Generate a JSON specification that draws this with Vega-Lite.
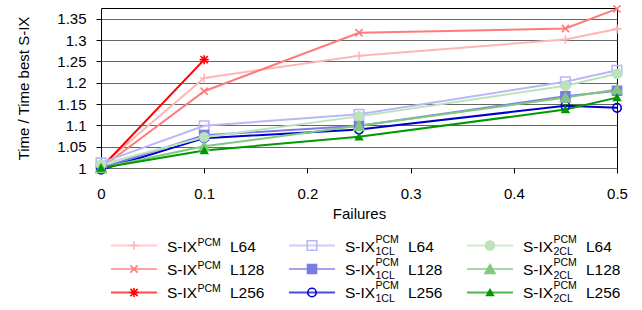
{
  "$schema": "https://vega.github.io/schema/vega-lite/v6.json",
  "padding": {"left": 16, "top": 1, "right": 5, "bottom": 0},
  "background": "white",
  "spacing": 12,
  "config": {
    "font": "Liberation Sans",
    "view": {"stroke": "black", "strokeWidth": 1},
    "axis": {
      "labelFont": "Liberation Sans", "titleFont": "Liberation Sans",
      "labelFontSize": 15, "titleFontSize": 15,
      "labelColor": "black", "titleColor": "black", "titleFontWeight": "normal",
      "domainColor": "black", "tickColor": "black", "tickSize": 5, "grid": false, "labelFlush": false
    }
  },
  "datasets": {
    "lines": [
      {"series": "PCM L64", "x": 0, "y": 1.005}, {"series": "PCM L64", "x": 0.1, "y": 1.211}, {"series": "PCM L64", "x": 0.25, "y": 1.263}, {"series": "PCM L64", "x": 0.45, "y": 1.301}, {"series": "PCM L64", "x": 0.5, "y": 1.326},
      {"series": "PCM L128", "x": 0, "y": 1.0}, {"series": "PCM L128", "x": 0.1, "y": 1.18}, {"series": "PCM L128", "x": 0.25, "y": 1.317}, {"series": "PCM L128", "x": 0.45, "y": 1.327}, {"series": "PCM L128", "x": 0.5, "y": 1.373},
      {"series": "PCM L256", "x": 0, "y": 1.0}, {"series": "PCM L256", "x": 0.1, "y": 1.254},
      {"series": "1CL L64", "x": 0, "y": 1.012}, {"series": "1CL L64", "x": 0.1, "y": 1.099}, {"series": "1CL L64", "x": 0.25, "y": 1.126}, {"series": "1CL L64", "x": 0.45, "y": 1.202}, {"series": "1CL L64", "x": 0.5, "y": 1.229},
      {"series": "1CL L128", "x": 0, "y": 1.0}, {"series": "1CL L128", "x": 0.1, "y": 1.077}, {"series": "1CL L128", "x": 0.25, "y": 1.099}, {"series": "1CL L128", "x": 0.45, "y": 1.168}, {"series": "1CL L128", "x": 0.5, "y": 1.181},
      {"series": "1CL L256", "x": 0, "y": 0.996}, {"series": "1CL L256", "x": 0.1, "y": 1.07}, {"series": "1CL L256", "x": 0.25, "y": 1.09}, {"series": "1CL L256", "x": 0.45, "y": 1.146}, {"series": "1CL L256", "x": 0.5, "y": 1.141},
      {"series": "2CL L64", "x": 0, "y": 1.008}, {"series": "2CL L64", "x": 0.1, "y": 1.072}, {"series": "2CL L64", "x": 0.25, "y": 1.121}, {"series": "2CL L64", "x": 0.45, "y": 1.193}, {"series": "2CL L64", "x": 0.5, "y": 1.221},
      {"series": "2CL L128", "x": 0, "y": 1.0}, {"series": "2CL L128", "x": 0.1, "y": 1.051}, {"series": "2CL L128", "x": 0.25, "y": 1.099}, {"series": "2CL L128", "x": 0.45, "y": 1.165}, {"series": "2CL L128", "x": 0.5, "y": 1.184},
      {"series": "2CL L256", "x": 0, "y": 1.0}, {"series": "2CL L256", "x": 0.1, "y": 1.041}, {"series": "2CL L256", "x": 0.25, "y": 1.073}, {"series": "2CL L256", "x": 0.45, "y": 1.137}, {"series": "2CL L256", "x": 0.5, "y": 1.165}
    ],
    "legend": [
      {"series": "PCM L64", "group": "PCM", "level": "L64"},
      {"series": "PCM L128", "group": "PCM", "level": "L128"},
      {"series": "PCM L256", "group": "PCM", "level": "L256"},
      {"series": "1CL L64", "group": "1CL", "level": "L64"},
      {"series": "1CL L128", "group": "1CL", "level": "L128"},
      {"series": "1CL L256", "group": "1CL", "level": "L256"},
      {"series": "2CL L64", "group": "2CL", "level": "L64"},
      {"series": "2CL L128", "group": "2CL", "level": "L128"},
      {"series": "2CL L256", "group": "2CL", "level": "L256"}
    ]
  },
  "vconcat": [
    {
      "width": 516,
      "height": 160,
      "data": {"name": "lines"},
      "encoding": {
        "x": {"field": "x", "type": "quantitative",
          "scale": {"domain": [0, 0.5], "nice": false, "zero": false},
          "axis": {"title": "Failures", "values": [0, 0.1, 0.2, 0.3, 0.4, 0.5], "format": "~g", "labelPadding": 13, "titlePadding": 5, "domain": false}},
        "y": {"field": "y", "type": "quantitative",
          "scale": {"domain": [1, 1.375], "nice": false, "zero": false},
          "axis": {"title": "Time / Time best S-IX", "values": [1, 1.05, 1.1, 1.15, 1.2, 1.25, 1.3, 1.35], "format": "~g", "grid": true, "gridColor": "#666666", "labelPadding": 10, "titlePadding": 25, "domain": false}}
      },
      "layer": [
        {
          "mark": {"type": "line", "strokeWidth": 2},
          "encoding": {
            "color": {"field": "series", "type": "nominal", "legend": null,
              "scale": {"domain": ["PCM L64", "PCM L128", "PCM L256", "1CL L64", "1CL L128", "1CL L256", "2CL L64", "2CL L128", "2CL L256"],
                        "range": ["#ffb6b6", "#ff7a7a", "#ff0000", "#b8b8f8", "#7b7be6", "#0000cc", "#bbe3bb", "#80c880", "#009900"]}}
          }
        },
        {
          "mark": {"type": "point", "filled": false, "strokeWidth": 1.6, "opacity": 1},
          "encoding": {
            "color": {"field": "series", "type": "nominal", "legend": null,
              "scale": {"domain": ["PCM L64", "PCM L128", "PCM L256", "1CL L64", "1CL L128", "1CL L256", "2CL L64", "2CL L128", "2CL L256"],
                        "range": ["#ffb6b6", "#ff7a7a", "#ff0000", "#b8b8f8", "#7b7be6", "#0000cc", "#bbe3bb", "#80c880", "#009900"]}},
            "fill": {"field": "series", "type": "nominal", "legend": null,
              "scale": {"domain": ["PCM L64", "PCM L128", "PCM L256", "1CL L64", "1CL L128", "1CL L256", "2CL L64", "2CL L128", "2CL L256"],
                        "range": ["transparent", "transparent", "transparent", "transparent", "#7b7be6", "transparent", "#bbe3bb", "#80c880", "#009900"]}},
            "shape": {"field": "series", "type": "nominal", "legend": null,
              "scale": {"domain": ["PCM L64", "PCM L128", "PCM L256", "1CL L64", "1CL L128", "1CL L256", "2CL L64", "2CL L128", "2CL L256"],
                        "range": ["M-1,0H1M0,-1V1", "M-0.8,-0.8L0.8,0.8M0.8,-0.8L-0.8,0.8", "M-1,0H1M0,-1V1M-0.8,-0.8L0.8,0.8M0.8,-0.8L-0.8,0.8", "square", "square", "circle", "circle", "triangle-up", "triangle-up"]}},
            "size": {"field": "series", "type": "nominal", "legend": null,
              "scale": {"type": "ordinal", "domain": ["PCM L64", "PCM L128", "PCM L256", "1CL L64", "1CL L128", "1CL L256", "2CL L64", "2CL L128", "2CL L256"],
                        "range": [81, 81, 81, 90, 81, 72, 81, 100, 45]}}
          }
        }
      ]
    },
    {
      "width": 422,
      "height": 60,
      "view": {"stroke": null},
      "data": {"name": "legend"},
      "encoding": {
        "x": {"field": "group", "type": "nominal", "scale": {"type": "point", "domain": ["PCM", "1CL", "2CL"], "padding": 0.1854}, "axis": null},
        "y": {"field": "level", "type": "nominal", "scale": {"type": "point", "domain": ["L64", "L128", "L256"], "padding": 0.277}, "axis": null}
      },
      "layer": [
        {
          "mark": {"type": "tick", "orient": "horizontal", "size": 46, "thickness": 2},
          "encoding": {
            "color": {"field": "series", "type": "nominal", "legend": null,
              "scale": {"domain": ["PCM L64", "PCM L128", "PCM L256", "1CL L64", "1CL L128", "1CL L256", "2CL L64", "2CL L128", "2CL L256"],
                        "range": ["#ffb6b6", "#ff7a7a", "#ff0000", "#b8b8f8", "#7b7be6", "#0000cc", "#bbe3bb", "#80c880", "#009900"]}}
          }
        },
        {
          "mark": {"type": "point", "filled": false, "strokeWidth": 1.6, "opacity": 1},
          "encoding": {
            "color": {"field": "series", "type": "nominal", "legend": null},
            "fill": {"field": "series", "type": "nominal", "legend": null,
              "scale": {"domain": ["PCM L64", "PCM L128", "PCM L256", "1CL L64", "1CL L128", "1CL L256", "2CL L64", "2CL L128", "2CL L256"],
                        "range": ["transparent", "transparent", "transparent", "transparent", "#7b7be6", "transparent", "#bbe3bb", "#80c880", "#009900"]}},
            "shape": {"field": "series", "type": "nominal", "legend": null,
              "scale": {"domain": ["PCM L64", "PCM L128", "PCM L256", "1CL L64", "1CL L128", "1CL L256", "2CL L64", "2CL L128", "2CL L256"],
                        "range": ["M-1,0H1M0,-1V1", "M-0.8,-0.8L0.8,0.8M0.8,-0.8L-0.8,0.8", "M-1,0H1M0,-1V1M-0.8,-0.8L0.8,0.8M0.8,-0.8L-0.8,0.8", "square", "square", "circle", "circle", "triangle-up", "triangle-up"]}},
            "size": {"field": "series", "type": "nominal", "legend": null,
              "scale": {"type": "ordinal", "domain": ["PCM L64", "PCM L128", "PCM L256", "1CL L64", "1CL L128", "1CL L256", "2CL L64", "2CL L128", "2CL L256"],
                        "range": [81, 81, 81, 90, 81, 72, 81, 100, 45]}}
          }
        },
        {
          "mark": {"type": "text", "text": "S-IX", "align": "left", "baseline": "alphabetic", "xOffset": 33, "dy": 6, "fontSize": 15.5, "color": "black"}
        },
        {
          "transform": [{"filter": "datum.group === 'PCM'"}],
          "mark": {"type": "text", "text": "PCM", "align": "left", "baseline": "alphabetic", "xOffset": 63.5, "dy": 0, "fontSize": 10.5, "color": "black"}
        },
        {
          "transform": [{"filter": "datum.group !== 'PCM'"}],
          "mark": {"type": "text", "text": "PCM", "align": "left", "baseline": "alphabetic", "xOffset": 63.5, "dy": -3, "fontSize": 10.5, "color": "black"}
        },
        {
          "transform": [{"filter": "datum.group !== 'PCM'"}],
          "mark": {"type": "text", "align": "left", "baseline": "alphabetic", "xOffset": 63.5, "dy": 9.5, "fontSize": 10.5, "color": "black"},
          "encoding": {"text": {"field": "group"}}
        },
        {
          "mark": {"type": "text", "align": "left", "baseline": "alphabetic", "xOffset": 96, "dy": 6, "fontSize": 15.5, "color": "black"},
          "encoding": {"text": {"field": "level"}}
        }
      ]
    }
  ]
}
